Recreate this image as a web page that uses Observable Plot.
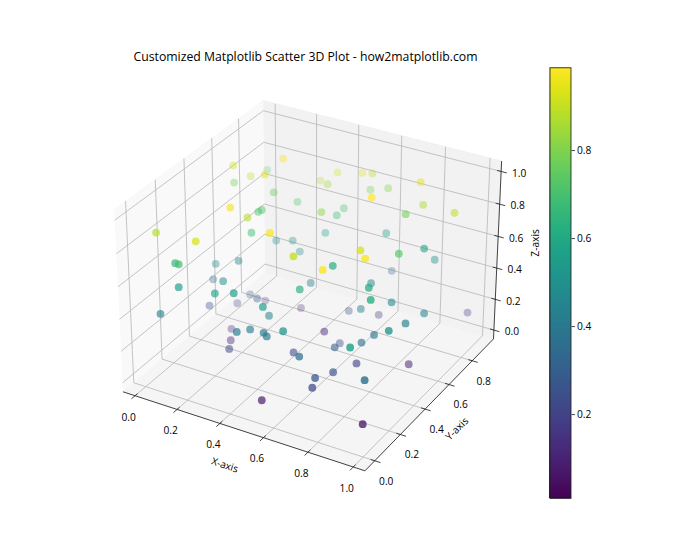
<!DOCTYPE html><html><head><meta charset="utf-8">
<script src="https://cdn.jsdelivr.net/npm/d3@7"></script>
<script src="https://cdn.jsdelivr.net/npm/@observablehq/plot@0.6"></script>
<style>
body{margin:0;background:#fff;width:700px;height:560px;position:relative;overflow:hidden}
#title{position:absolute;left:0;width:611px;top:49px;text-align:center;font:12.24px/16px "Open Sans",sans-serif;color:#000}
#main,#bar{position:absolute;top:0}
#main{left:0}#bar{left:549px}
svg{display:block}
</style></head><body>
<div id="title">Customized Matplotlib Scatter 3D Plot - how2matplotlib.com</div>
<div id="main"></div><div id="bar"></div>
<script>
const xs=[.011,.036,.021,.187,.168,.010,.169,.230,.258,.204,.238,.202,.212,.423,.011,.190,.199,.431,.194,.253,.290,.565,.106,.155,.036,.148,.011,.183,.141,.425,.522,.708,.319,.437,.484,.320,.741,.479,.559,.703,.772,.947,.403,.417,.780,.362,.611,.783,.807,.855,.878,.839,.643,.610,.669,.817,.865,.819,.942,.954,.638,.659,.527,.321,.946,.955,.821,.554,.786,.589,.668,.873,.789,.911,.748,.724,.952,.724,.958,.650,.531,.236,.334,.123,.219,.151,.446,.086,.057,.377,.077,.125,.382,.392,.474,.488,.571,.201,.272,.540];
const ys=[.648,.739,.890,.608,.779,.654,.703,.788,.924,.327,.397,.533,.543,.655,.095,.103,.485,.255,.679,.712,.707,.209,.081,.034,.467,.465,.483,.297,.049,.569,.325,.187,.960,.960,.959,.878,.898,.954,.959,.567,.865,.800,.869,.788,.705,.790,.855,.342,.338,.517,.683,.851,.373,.910,.632,.351,.282,.532,.576,.935,.755,.569,.702,.664,.416,.266,.391,.460,.354,.524,.349,.114,.311,.516,.201,.105,.089,.084,.068,.110,.262,.157,.142,.586,.489,.658,.175,.545,.383,.328,.011,.438,.085,.165,.134,.134,.121,.316,.196,.011];
const zs=[.889,.774,.713,.920,.904,.779,.743,.650,.707,.906,.812,.744,.753,.743,.838,.847,.645,.885,.463,.463,.410,.827,.698,.743,.400,.463,.280,.466,.588,.358,.528,.816,.758,.796,.810,.735,.884,.708,.743,.990,.777,.834,.619,.633,.827,.500,.547,.854,.817,.741,.668,.468,.686,.268,.407,.636,.631,.418,.367,.115,.104,.286,.124,.088,.423,.492,.319,.179,.284,.071,.209,.470,.187,.077,.199,.227,.324,.183,.072,.324,.185,.510,.561,.153,.234,.072,.498,.110,.200,.304,.426,.037,.384,.344,.380,.363,.439,.085,.149,.082];
const cs=[.92,.88,.75,.95,.98,.78,.75,.72,.88,.97,.88,.72,.72,.82,.88,.93,.68,.98,.5,.5,.48,.9,.65,.7,.48,.45,.35,.5,.55,.42,.6,.99,.92,.95,.88,.85,.95,.78,.8,.99,.87,.9,.7,.68,.78,.55,.55,.93,.98,.73,.58,.5,.6,.3,.42,.62,.62,.47,.45,.2,.15,.42,.25,.12,.45,.52,.38,.12,.38,.25,.3,.58,.2,.1,.27,.27,.38,.22,.07,.38,.22,.55,.55,.28,.3,.12,.55,.2,.28,.42,.45,.12,.42,.4,.4,.4,.52,.12,.22,.08];
const xTicks=[0,.2,.4,.6,.8,1];
const yTicks=[0,.2,.4,.6,.8];
const zTicks=[0,.2,.4,.6,.8,1];
const cTicks=[.2,.4,.6,.8];
const xLim=[-.058,1.051],yLim=[-.0745,.99],zLim=[-.058,1.063],cLim=[.0093,.988];
const titleX="X-axis",titleY="Y-axis",titleZ="Z-axis";

// matplotlib's default 3D camera: elev 30, azim -60, box aspect 4:4:3, dist 10
const U=[.8660254,.5,0],V=[-.25,.4330127,.8660254],W=[.4330127,-.75,.5],BOX=[1.1905,1.1905,.8929];
function P(x,y,z){
  const q=[(x-xLim[0])/(xLim[1]-xLim[0])-.5,(y-yLim[0])/(yLim[1]-yLim[0])-.5,(z-zLim[0])/(zLim[1]-zLim[0])-.5].map((f,i)=>f*BOX[i]);
  const dot=a=>a[0]*q[0]+a[1]*q[1]+a[2]*q[2];
  const d=dot(W),k=10-d;
  return {h:dot(U)/k,v:dot(V)/k,d};
}
const [x0,x1]=xLim,[y0,y1]=yLim,[z0,z1]=zLim;
const seg=(a,b)=>{const p=P(...a),r=P(...b);return {x1:p.h,y1:p.v,x2:r.h,y2:r.v};};
const poly=(...c)=>c.map(a=>P(...a));
const paneLeft=poly([x0,y0,z0],[x0,y1,z0],[x0,y1,z1],[x0,y0,z1]);
const paneBack=poly([x0,y1,z0],[x1,y1,z0],[x1,y1,z1],[x0,y1,z1]);
const paneFloor=poly([x0,y0,z0],[x1,y0,z0],[x1,y1,z0],[x0,y1,z0]);
const grid=[
 ...xTicks.flatMap(t=>[seg([t,y0,z0],[t,y1,z0]),seg([t,y1,z0],[t,y1,z1])]),
 ...yTicks.flatMap(t=>[seg([x1,t,z0],[x0,t,z0]),seg([x0,t,z0],[x0,t,z1])]),
 ...zTicks.flatMap(t=>[seg([x0,y0,t],[x0,y1,t]),seg([x0,y1,t],[x1,y1,t])])
];
const axes=[seg([x0,y0,z0],[x1,y0,z0]),seg([x1,y0,z0],[x1,y1,z0]),seg([x1,y1,z0],[x1,y1,z1])];
const tOut=.025,tIn=.018;
const tickMarks=[
 ...xTicks.map(t=>seg([t,y0-tOut,z0],[t,y0+tIn,z0])),
 ...yTicks.map(t=>seg([x1+tOut,t,z0],[x1-tIn,t,z0])),
 ...zTicks.map(t=>seg([x1+tOut,y1,t],[x1-tIn,y1,t]))
];
const fmt=d3.format(".1f");
const lab=(ticks,f)=>ticks.map(t=>({...P(...f(t)),t:fmt(t)}));
const xLab=lab(xTicks,t=>[t,y0,z0]),yLab=lab(yTicks,t=>[x1,t,z0]),zLab=lab(zTicks,t=>[x1,y1,t]);
const pts=xs.map((x,i)=>({...P(x,ys[i],zs[i]),c:cs[i]}));
const dr=d3.extent(pts,p=>p.d);
pts.forEach(p=>p.a=.82*(1-.7*(dr[1]-p.d)/(dr[1]-dr[0])));
pts.sort((a,b)=>a.d-b.d);
const FONT='"Open Sans",sans-serif',TS=10.2;
const colorScale={type:"linear",scheme:"viridis",domain:cLim};
const txt=(d,dx,dy,extra={})=>Plot.text(d,{x:"h",y:"v",text:"t",dx,dy,fontSize:TS,fill:"#000",textAnchor:"middle",...extra});
const main=Plot.plot({
 width:700,height:560,marginLeft:90,marginRight:179.3,marginTop:66.8,marginBottom:62.5,
 style:{fontFamily:FONT,background:"transparent"},
 x:{domain:[-.095,.09],axis:null},y:{domain:[-.095,.09],axis:null},color:colorScale,
 marks:[
  Plot.line(paneLeft,{x:"h",y:"v",fill:"#f9f9f9",stroke:"#f7f7f7",strokeWidth:.8}),
  Plot.line(paneBack,{x:"h",y:"v",fill:"#f2f2f2",stroke:"#efefef",strokeWidth:.8}),
  Plot.line(paneFloor,{x:"h",y:"v",fill:"#f5f5f5",stroke:"#f3f3f3",strokeWidth:.8}),
  Plot.link(grid,{x1:"x1",y1:"y1",x2:"x2",y2:"y2",stroke:"#b9b9b9",strokeWidth:.85}),
  Plot.link(axes,{x1:"x1",y1:"y1",x2:"x2",y2:"y2",stroke:"#222",strokeWidth:.85}),
  Plot.link(tickMarks,{x1:"x1",y1:"y1",x2:"x2",y2:"y2",stroke:"#222",strokeWidth:.85}),
  Plot.dot(pts,{x:"h",y:"v",r:3.9,fill:"c",fillOpacity:"a",stroke:null}),
  txt(xLab,-6.5,21.5),txt(yLab,11.5,20.5),txt(zLab,18,2),
  txt([{...P((x0+x1)/2,y0,z0),t:titleX}],-16,35,{rotate:18}),
  txt([{...P(x1,(y0+y1)/2,z0),t:titleY}],25,27,{rotate:-45}),
  txt([{...P(x1,y1,(z0+z1)/2),t:titleZ}],38,-9,{rotate:-90})
 ]
});
document.getElementById("main").append(main);
const steps=d3.range(256).map(i=>({a:cLim[0]+(cLim[1]-cLim[0])*i/256,b:cLim[0]+(cLim[1]-cLim[0])*(i+1)/256}));
const bar=Plot.plot({
 width:60,height:560,marginLeft:.5,marginRight:38.5,marginTop:67.3,marginBottom:62,
 style:{fontFamily:FONT,background:"transparent"},
 x:{domain:[0,1],axis:null},y:{domain:cLim},color:colorScale,
 marks:[
  Plot.rect(steps,{x1:()=>0,x2:()=>1,y1:"a",y2:"b",fill:d=>(d.a+d.b)/2,shapeRendering:"crispEdges",inset:-.4}),
  Plot.frame({stroke:"#222",strokeWidth:.85}),
  Plot.axisY(cTicks,{anchor:"right",label:null,tickSize:3.4,tickPadding:2.5,fontSize:TS,stroke:"#222",strokeWidth:.85,tickFormat:fmt,fill:"#000"})
 ]
});
document.getElementById("bar").append(bar);
</script></body></html>
